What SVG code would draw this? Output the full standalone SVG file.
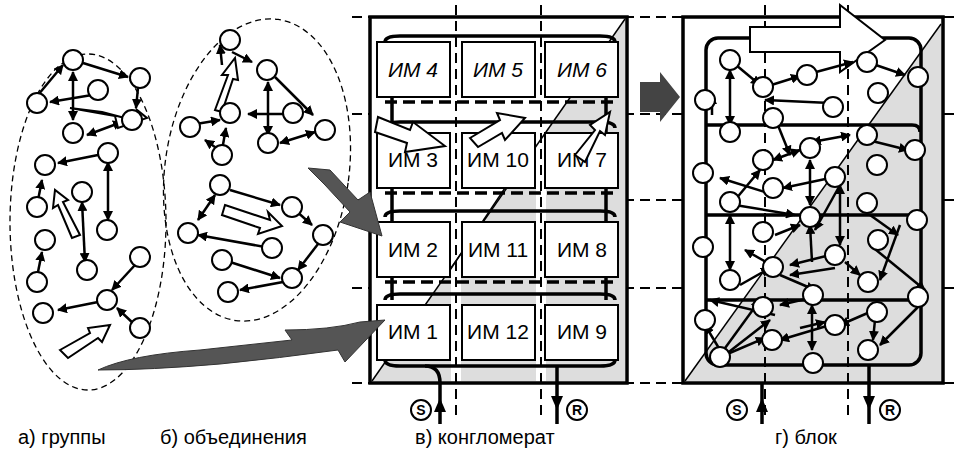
<svg xmlns="http://www.w3.org/2000/svg" width="955" height="453" viewBox="0 0 955 453">
<defs>
<marker id="ah" viewBox="0 0 10 10" refX="9" refY="5" markerWidth="4" markerHeight="4" orient="auto-start-reverse"><path d="M0,0L10,5L0,10z" fill="#000"/></marker>
<style>
.n{fill:#fff;stroke:#000;stroke-width:2}
.e{stroke:#000;stroke-width:2.5;fill:none;marker-end:url(#ah)}
.b{stroke:#000;stroke-width:2.5;fill:none;marker-start:url(#ah);marker-end:url(#ah)}
.el{fill:none;stroke:#000;stroke-width:1.3;stroke-dasharray:6 4}
.gd{stroke:#000;stroke-width:2;stroke-dasharray:10 6}
.box{fill:#fff;stroke:#000;stroke-width:2}
.lbl{font-family:"Liberation Sans",Arial,sans-serif;font-size:20px}
.bl{font-family:"Liberation Sans",Arial,sans-serif;font-size:21px;text-anchor:middle}
.sr{font-family:"Liberation Sans",Arial,sans-serif;font-size:14px;font-weight:bold;text-anchor:middle}
.loop{fill:none;stroke:#000;stroke-width:3.5}
.dl{stroke:#000;stroke-width:3.5;stroke-dasharray:12 6}
.ha{fill:#fff;stroke:#000;stroke-width:2}
.ga{fill:#555;stroke:#333;stroke-width:1}
</style>
</defs>
<rect width="955" height="453" fill="#fff"/>
<g id="grid">
<line class="gd" x1="352" y1="114" x2="955" y2="114"/>
<line class="gd" x1="352" y1="200" x2="955" y2="200"/>
<line class="gd" x1="352" y1="288" x2="955" y2="288"/>
<line class="gd" x1="352" y1="17" x2="955" y2="17"/>
<line class="gd" x1="352" y1="383" x2="955" y2="383"/>
</g>
<g id="panel-v">
<rect x="370" y="17" width="257" height="366" fill="#fff" stroke="#000" stroke-width="3.5"/>
<polygon points="372,381 625,19 625,381" fill="#ddd"/>
<rect x="451" y="19" width="10" height="362" fill="#fff"/>
<rect x="536" y="19" width="10" height="362" fill="#fff"/>
<line class="gd" x1="456" y1="5" x2="456" y2="420"/>
<line class="gd" x1="541" y1="5" x2="541" y2="420"/>
<line x1="372" y1="381" x2="625" y2="19" stroke="#000" stroke-width="1.5"/>
<path class="loop" d="M385,42 Q385,36 400,36 L600,36 Q615,36 615,42"/>
<path class="loop" d="M385,128 Q385,122 400,122 L600,122 Q615,122 615,128"/>
<path class="loop" d="M385,217 Q385,211 400,211 L600,211 Q615,211 615,217"/>
<path class="loop" d="M385,300 Q385,294 400,294 L600,294 Q615,294 615,300"/>
<path class="loop" d="M385,360 Q385,366 400,366 L600,366 Q615,366 615,360"/>
<line class="dl" x1="385" y1="102" x2="615" y2="102"/>
<line class="dl" x1="385" y1="193" x2="615" y2="193"/>
<line class="dl" x1="385" y1="282" x2="615" y2="282"/>
<line x1="392" y1="97" x2="392" y2="300" stroke="#000" stroke-width="3.5"/>
<line x1="606" y1="97" x2="606" y2="300" stroke="#000" stroke-width="3.5"/>
<line x1="505" y1="188" x2="450" y2="270" stroke="#000" stroke-width="1.5"/>
<g id="im4"><rect class="box" x="377" y="42" width="73" height="55"/><text class="bl" x="413" y="77" font-style="italic">ИМ 4</text></g>
<g id="im5"><rect class="box" x="462" y="42" width="73" height="55"/><text class="bl" x="498" y="77" font-style="italic">ИМ 5</text></g>
<g id="im6"><rect class="box" x="545" y="42" width="73" height="55"/><text class="bl" x="582" y="77" font-style="italic">ИМ 6</text></g>
<g id="im3"><rect class="box" x="377" y="133" width="73" height="55"/><text class="bl" x="413" y="167">ИМ 3</text></g>
<g id="im10"><rect class="box" x="462" y="133" width="73" height="55"/><text class="bl" x="498" y="167">ИМ 10</text></g>
<g id="im7"><rect class="box" x="545" y="133" width="73" height="55"/><text class="bl" x="582" y="167">ИМ 7</text></g>
<g id="im2"><rect class="box" x="377" y="222" width="73" height="55"/><text class="bl" x="413" y="257">ИМ 2</text></g>
<g id="im11"><rect class="box" x="462" y="222" width="73" height="55"/><text class="bl" x="498" y="257">ИМ 11</text></g>
<g id="im8"><rect class="box" x="545" y="222" width="73" height="55"/><text class="bl" x="582" y="257">ИМ 8</text></g>
<g id="im1"><rect class="box" x="377" y="305" width="73" height="55"/><text class="bl" x="413" y="339">ИМ 1</text></g>
<g id="im12"><rect class="box" x="462" y="305" width="73" height="55"/><text class="bl" x="498" y="339">ИМ 12</text></g>
<g id="im9"><rect class="box" x="545" y="305" width="73" height="55"/><text class="bl" x="582" y="339">ИМ 9</text></g>
<polygon class="ha" points="378,117 410,130 413,122 445,146 405,152 407,143 375,132"/>
<polygon class="ha" points="470,138 500,120 497,113 525,118 505,140 502,133 478,147"/>
<polygon class="ha" points="575,155 595,130 590,125 610,112 605,135 600,131 585,162"/>
<line x1="440" y1="383" x2="440" y2="424" stroke="#000" stroke-width="3.5"/>
<polygon points="434,412 440,398 446,412"/>
<path d="M440,383 Q440,366 425,366" class="loop"/>
<line x1="557" y1="366" x2="557" y2="424" stroke="#000" stroke-width="3.5"/>
<polygon points="551,396 557,410 563,396"/>
<circle class="n" cx="421" cy="410" r="10"/><text x="421" y="415" class="sr">S</text>
<circle class="n" cx="577" cy="410" r="10"/><text x="577" y="415" class="sr">R</text>
</g>
<g id="panel-g">
<rect x="683" y="17" width="260" height="366" fill="#fff" stroke="#000" stroke-width="3.5"/>
<polygon points="685,381 941,24 941,381" fill="#ddd"/>
<line x1="685" y1="381" x2="941" y2="24" stroke="#000" stroke-width="1.5"/>
<line class="gd" x1="765" y1="5" x2="765" y2="420"/>
<line class="gd" x1="848" y1="5" x2="848" y2="420"/>
<rect class="loop" x="706" y="38" width="215" height="327" rx="12"/>
<path class="loop" d="M706,125 L912,125 Q920,125 920,132"/>
<path class="loop" d="M706,215 L912,215 Q920,215 920,222"/>
<path class="loop" d="M706,300 L912,300 Q920,300 920,307"/>
<polygon class="ha" points="750,27 840,27 840,5 885,40 840,72 840,52 750,52"/>
<line x1="762" y1="383" x2="762" y2="424" stroke="#000" stroke-width="3.5"/>
<polygon points="756,412 762,398 768,412"/>
<line x1="869" y1="365" x2="869" y2="424" stroke="#000" stroke-width="3.5"/>
<polygon points="863,396 869,410 875,396"/>
<circle class="n" cx="737" cy="410" r="10"/><text x="737" y="415" class="sr">S</text>
<circle class="n" cx="890" cy="410" r="10"/><text x="890" y="415" class="sr">R</text>
<g id="g-edges">
<line class="e" x1="730" y1="60" x2="760" y2="85"/><line class="e" x1="765" y1="87" x2="800" y2="76"/>
<line class="e" x1="805" y1="75" x2="853" y2="62"/><line class="e" x1="867" y1="62" x2="905" y2="75"/>
<line class="e" x1="830" y1="103" x2="765" y2="100"/><line class="b" x1="730" y1="70" x2="730" y2="125"/>
<line class="e" x1="775" y1="118" x2="790" y2="155"/><line class="b" x1="773" y1="160" x2="800" y2="150"/>
<line class="b" x1="812" y1="142" x2="850" y2="135"/><line class="e" x1="868" y1="140" x2="908" y2="150"/>
<line class="b" x1="810" y1="160" x2="810" y2="205"/><line class="e" x1="830" y1="178" x2="783" y2="188"/>
<line class="e" x1="765" y1="192" x2="720" y2="178"/><line class="e" x1="735" y1="200" x2="760" y2="170"/>
<line class="e" x1="840" y1="185" x2="815" y2="230"/><line class="b" x1="840" y1="185" x2="840" y2="245"/>
<line class="e" x1="870" y1="215" x2="898" y2="235"/><line class="e" x1="735" y1="205" x2="795" y2="215"/>
<line class="b" x1="730" y1="215" x2="730" y2="270"/><line class="e" x1="775" y1="235" x2="800" y2="225"/>
<line class="e" x1="830" y1="255" x2="790" y2="265"/><line class="e" x1="780" y1="270" x2="745" y2="250"/>
<line class="e" x1="812" y1="262" x2="810" y2="225"/><line class="e" x1="845" y1="262" x2="860" y2="275"/>
<line class="e" x1="900" y1="225" x2="880" y2="280"/><line class="e" x1="870" y1="245" x2="925" y2="290"/>
<line class="e" x1="835" y1="268" x2="790" y2="275"/><line class="e" x1="740" y1="285" x2="770" y2="268"/>
<line class="e" x1="780" y1="275" x2="815" y2="290"/><line class="e" x1="720" y1="355" x2="760" y2="300"/>
<line class="e" x1="725" y1="355" x2="765" y2="338"/><line class="e" x1="725" y1="355" x2="770" y2="320"/>
<line class="e" x1="720" y1="350" x2="705" y2="325"/><line class="b" x1="812" y1="305" x2="812" y2="350"/>
<line class="e" x1="830" y1="325" x2="780" y2="340"/><line class="e" x1="870" y1="312" x2="840" y2="325"/>
<line class="e" x1="875" y1="320" x2="873" y2="340"/><line class="e" x1="920" y1="305" x2="880" y2="345"/>
<line class="e" x1="810" y1="298" x2="780" y2="305"/><line class="e" x1="775" y1="315" x2="710" y2="300"/>
<line class="e" x1="800" y1="328" x2="825" y2="322"/><line class="e" x1="712" y1="115" x2="712" y2="95"/>
</g>
<g id="g-nodes">
<circle class="n" cx="730" cy="60" r="10"/><circle class="n" cx="763" cy="87" r="10"/><circle class="n" cx="807" cy="75" r="10"/>
<circle class="n" cx="867" cy="62" r="10"/><circle class="n" cx="918" cy="77" r="10"/><circle class="n" cx="705" cy="100" r="10"/>
<circle class="n" cx="833" cy="107" r="10"/><circle class="n" cx="878" cy="93" r="10"/><circle class="n" cx="773" cy="118" r="10"/>
<circle class="n" cx="730" cy="132" r="10"/><circle class="n" cx="867" cy="135" r="10"/><circle class="n" cx="915" cy="150" r="10"/>
<circle class="n" cx="810" cy="148" r="10"/><circle class="n" cx="763" cy="160" r="10"/><circle class="n" cx="877" cy="165" r="10"/>
<circle class="n" cx="703" cy="173" r="10"/><circle class="n" cx="835" cy="177" r="10"/><circle class="n" cx="773" cy="188" r="10"/>
<circle class="n" cx="730" cy="202" r="10"/><circle class="n" cx="867" cy="203" r="10"/><circle class="n" cx="810" cy="217" r="10"/>
<circle class="n" cx="917" cy="220" r="10"/><circle class="n" cx="763" cy="232" r="10"/><circle class="n" cx="878" cy="240" r="10"/>
<circle class="n" cx="703" cy="247" r="10"/><circle class="n" cx="835" cy="255" r="10"/><circle class="n" cx="773" cy="267" r="10"/>
<circle class="n" cx="730" cy="280" r="10"/><circle class="n" cx="868" cy="282" r="10"/><circle class="n" cx="813" cy="295" r="10"/>
<circle class="n" cx="918" cy="297" r="10"/><circle class="n" cx="763" cy="307" r="10"/><circle class="n" cx="877" cy="312" r="10"/>
<circle class="n" cx="705" cy="320" r="10"/><circle class="n" cx="835" cy="325" r="10"/><circle class="n" cx="772" cy="340" r="10"/>
<circle class="n" cx="720" cy="357" r="10"/><circle class="n" cx="813" cy="363" r="10"/><circle class="n" cx="868" cy="350" r="10"/>
</g>
</g>
<g id="ellipses">
<ellipse class="el" cx="88" cy="222" rx="78" ry="168"/>
<ellipse class="el" cx="257" cy="170" rx="92" ry="152" transform="rotate(8 257 170)"/>
</g>
<g id="big-arrows">
<polygon class="ga" points="308,168 330,170 358,200 370,192 382,236 340,222 350,212 325,185"/>
<path class="ga" d="M98,370 Q130,355 200,350 L292,340 L285,330 Q330,330 360,322 L385,320 L345,362 L338,350 Q280,358 220,364 Q150,370 98,370 Z"/>
<polygon points="640,82 660,82 660,72 680,97 660,122 660,112 640,112" fill="#444"/>
</g>
<g id="left-edges">
<line class="e" x1="38" y1="95" x2="63" y2="65"/><line class="e" x1="83" y1="63" x2="128" y2="77"/>
<line class="e" x1="138" y1="88" x2="136" y2="108"/><line class="e" x1="92" y1="95" x2="50" y2="102"/>
<line class="b" x1="73" y1="72" x2="73" y2="120"/><line class="b" x1="87" y1="135" x2="122" y2="122"/>
<line class="e" x1="98" y1="155" x2="58" y2="163"/><line class="b" x1="108" y1="162" x2="108" y2="220"/>
<line class="e" x1="38" y1="200" x2="42" y2="180"/><line class="b" x1="82" y1="202" x2="85" y2="262"/>
<line class="e" x1="38" y1="272" x2="42" y2="252"/><line class="e" x1="135" y1="265" x2="112" y2="290"/>
<line class="e" x1="98" y1="302" x2="58" y2="310"/><line class="e" x1="135" y1="325" x2="117" y2="308"/>
<line class="e" x1="232" y1="52" x2="252" y2="62"/><line class="e" x1="222" y1="65" x2="220" y2="45"/>
<line class="e" x1="275" y1="77" x2="313" y2="115"/><line class="b" x1="268" y1="82" x2="268" y2="135"/>
<line class="e" x1="283" y1="114" x2="248" y2="114"/><line class="e" x1="190" y1="125" x2="220" y2="120"/>
<line class="e" x1="222" y1="152" x2="205" y2="140"/><line class="e" x1="222" y1="150" x2="226" y2="128"/>
<line class="b" x1="280" y1="143" x2="315" y2="132"/><line class="e" x1="230" y1="190" x2="280" y2="205"/>
<line class="e" x1="295" y1="210" x2="312" y2="225"/><line class="b" x1="215" y1="195" x2="198" y2="220"/>
<line class="e" x1="265" y1="247" x2="198" y2="235"/><line class="e" x1="230" y1="262" x2="280" y2="278"/>
<line class="e" x1="318" y1="244" x2="298" y2="270"/><line class="e" x1="283" y1="282" x2="240" y2="290"/>
</g>
<g id="left-hollow">
<polygon class="ha" points="102,112 140,122 137,110 147,118 118,128 115,116 70,108"/>
<polygon class="ha" points="72,238 58,205 53,208 55,190 68,200 63,202 80,235"/>
<polygon class="ha" points="60,350 90,333 88,328 110,325 102,342 98,338 68,358"/>
<polygon class="ha" points="215,110 228,75 222,75 235,58 238,80 233,79 222,112"/>
<polygon class="ha" points="225,205 270,220 268,212 282,226 258,234 260,228 222,215"/>
</g>
<g id="left-nodes">
<circle class="n" cx="73" cy="60" r="10"/><circle class="n" cx="140" cy="78" r="10"/><circle class="n" cx="37" cy="103" r="10"/>
<circle class="n" cx="98" cy="90" r="10"/><circle class="n" cx="132" cy="120" r="10"/><circle class="n" cx="73" cy="133" r="10"/>
<circle class="n" cx="108" cy="153" r="10"/><circle class="n" cx="45" cy="165" r="10"/><circle class="n" cx="37" cy="207" r="10"/>
<circle class="n" cx="82" cy="192" r="10"/><circle class="n" cx="107" cy="230" r="10"/><circle class="n" cx="45" cy="240" r="10"/>
<circle class="n" cx="87" cy="270" r="10"/><circle class="n" cx="37" cy="282" r="10"/><circle class="n" cx="140" cy="257" r="10"/>
<circle class="n" cx="107" cy="300" r="10"/><circle class="n" cx="43" cy="313" r="10"/><circle class="n" cx="140" cy="328" r="10"/>
<circle class="n" cx="230" cy="40" r="10"/><circle class="n" cx="267" cy="70" r="10"/><circle class="n" cx="230" cy="113" r="10"/>
<circle class="n" cx="190" cy="127" r="10"/><circle class="n" cx="293" cy="113" r="10"/><circle class="n" cx="325" cy="130" r="10"/>
<circle class="n" cx="268" cy="143" r="10"/><circle class="n" cx="222" cy="155" r="10"/><circle class="n" cx="220" cy="185" r="10"/>
<circle class="n" cx="292" cy="207" r="10"/><circle class="n" cx="188" cy="233" r="10"/><circle class="n" cx="323" cy="235" r="10"/>
<circle class="n" cx="272" cy="248" r="10"/><circle class="n" cx="222" cy="260" r="10"/><circle class="n" cx="292" cy="278" r="10"/>
<circle class="n" cx="228" cy="292" r="10"/>
</g>
<g id="captions">
<text class="lbl" x="18" y="444">а) группы</text>
<text class="lbl" x="160" y="444">б) объединения</text>
<text class="lbl" x="415" y="444">в) конгломерат</text>
<text class="lbl" x="775" y="444">г) блок</text>
</g>
</svg>
